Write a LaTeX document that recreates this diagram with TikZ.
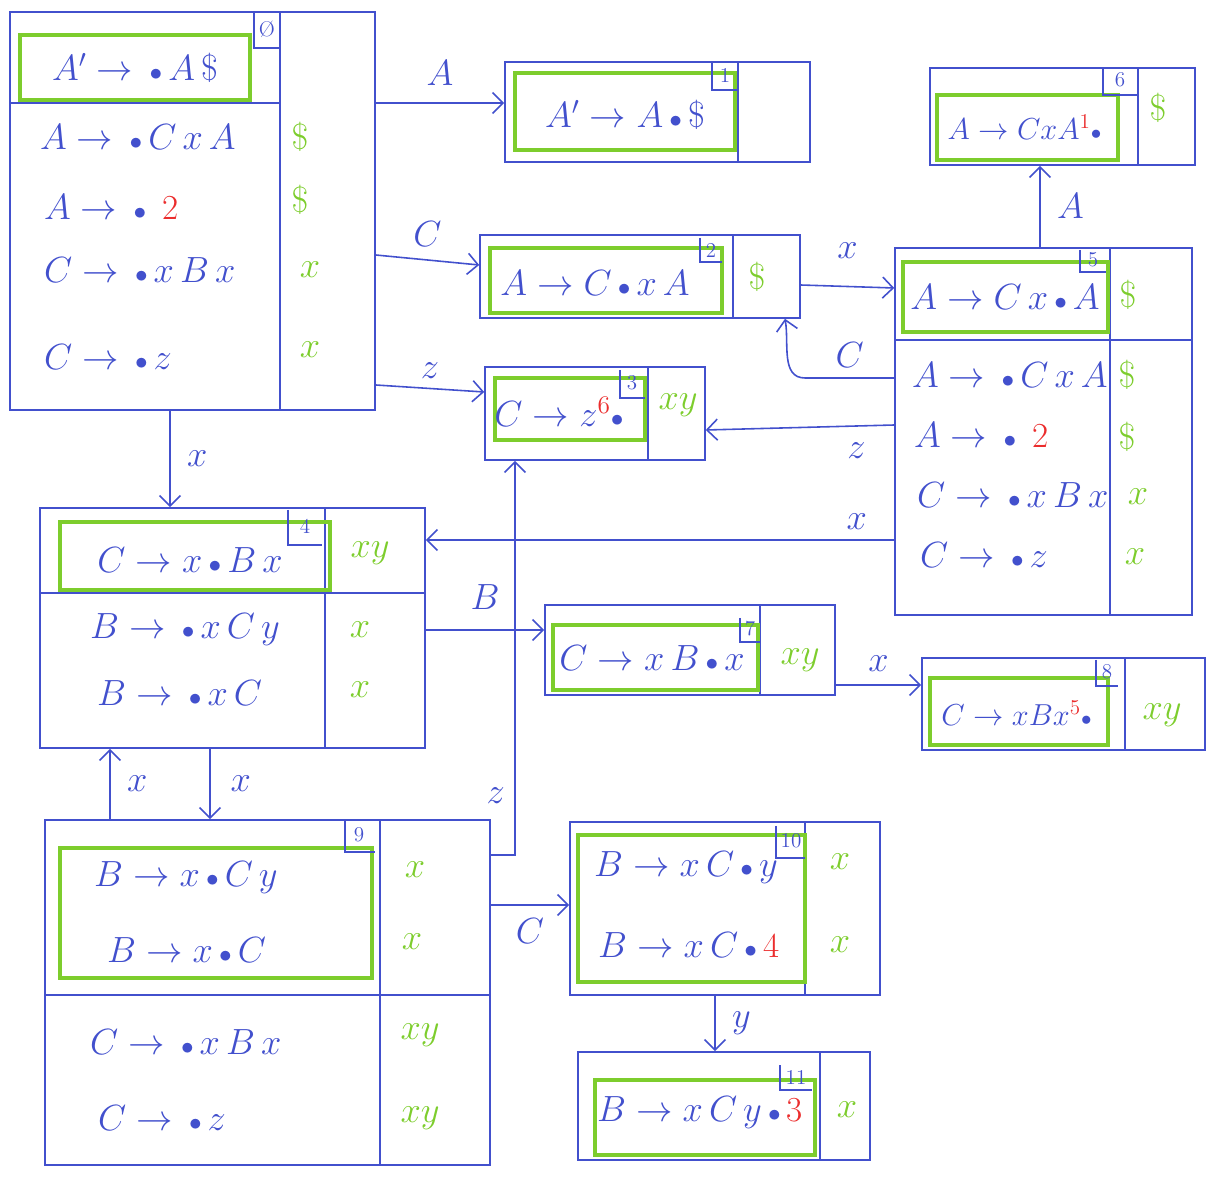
\documentclass[tikz,border=0pt]{standalone}
\usetikzlibrary{fit,arrows.meta}
\definecolor{ink}{RGB}{66,80,205}
\definecolor{hl}{RGB}{125,205,45}
\definecolor{rd}{RGB}{235,45,45}
\newcommand{\dt}{\,{\scriptstyle\bullet}\,}
\newcommand{\rednum}[1]{\textcolor{rd}{#1}}
\begin{document}
\begin{tikzpicture}[x=0.02cm,y=-0.02cm,
  state/.style={draw=ink,line width=0.9pt,inner sep=0pt},
  kern/.style={draw=hl,line width=1.8pt,inner sep=0pt},
  sep/.style={ink,line width=0.9pt},
  item/.style={text=ink,font=\fontsize{20}{24}\selectfont,inner sep=1pt},
  small item/.style={item,font=\fontsize{18.5}{22}\selectfont},
  look/.style={text=hl,font=\fontsize{20}{24}\selectfont},
  num/.style={text=ink,font=\large,inner sep=0pt},
  lbl/.style={text=ink,font=\fontsize{20}{24}\selectfont},
  edge/.style={ink,line width=0.9pt,-{Straight Barb[length=6pt,width=12pt]}}]
\useasboundingbox (0,0) rectangle (1208,1192);

% state 0
\node[state,fit={(10,12) (375,410)}] (s0) {};
\draw[sep] (280,12) -- (280,410);
\draw[sep] (10,103) -- (280,103);
\node[kern,fit={(20,35) (250,100)}] (k0) {};
\draw[sep] (254,12) |- (280,48);
\node[num] (n0) at (267,29) {\O};
\node[item] (i0) at (135,68) {$A' \to \dt A\,\$$};
\node[item,anchor=west] (i0a) at (38,137) {$A \to \dt C\,x\,A$};
\node[look] (l0a) at (300,137) {$\$$};
\node[item,anchor=west] (i0b) at (42,207) {$A \to \dt$ \rednum{2}};
\node[look] (l0b) at (300,200) {$\$$};
\node[item,anchor=west] (i0c) at (42,270) {$C \to \dt x\,B\,x$};
\node[look] (l0c) at (310,270) {$x$};
\node[item,anchor=west] (i0d) at (42,357) {$C \to \dt z$};
\node[look] (l0d) at (310,350) {$x$};

% state 1
\node[state,fit={(505,62) (810,162)}] (s1) {};
\draw[sep] (738,62) -- (738,162);
\node[kern,fit={(515,73) (735,150)}] (k1) {};
\draw[sep] (712,62) |- (738,90);
\node[num] (n1) at (725,75) {1};
\node[item] (i1) at (625,115) {$A' \to A \dt \$$};

% state 2
\node[state,fit={(480,235) (800,318)}] (s2) {};
\draw[sep] (733,235) -- (733,318);
\node[kern,fit={(490,248) (722,313)}] (k2) {};
\draw[sep] (700,238) |- (722,262);
\node[num] (n2) at (711,250) {2};
\node[item] (i2) at (595,283) {$A \to C \dt x\,A$};
\node[look] (l2) at (757,277) {$\$$};

% state 3
\node[state,fit={(485,367) (705,460)}] (s3) {};
\draw[sep] (648,367) -- (648,460);
\node[kern,fit={(495,378) (645,440)}] (k3) {};
\draw[sep] (620,370) |- (645,398);
\node[num] (n3) at (632,383) {3};
\node[item] (i3) at (562,412) {$C \to z^{\textcolor{rd}{6}}\!\dt$};
\node[look] (l3) at (678,405) {$xy$};

% state 4
\node[state,fit={(40,508) (425,748)}] (s4) {};
\draw[sep] (325,508) -- (325,748);
\draw[sep] (40,593) -- (425,593);
\node[kern,fit={(60,522) (330,590)}] (k4) {};
\draw[sep] (288,510) |- (322,545);
\node[num] (n4) at (305,526) {4};
\node[item] (i4) at (190,560) {$C \to x \dt B\,x$};
\node[look] (l4) at (370,553) {$xy$};
\node[item,anchor=west] (i4a) at (88,630) {$B \to \dt x\,C\,y$};
\node[look] (l4a) at (360,630) {$x$};
\node[item,anchor=west] (i4b) at (95,693) {$B \to \dt x\,C$};
\node[look] (l4b) at (360,690) {$x$};

% state 5
\node[state,fit={(895,248) (1192,615)}] (s5) {};
\draw[sep] (1110,248) -- (1110,615);
\draw[sep] (895,340) -- (1192,340);
\node[kern,fit={(903,262) (1108,332)}] (k5) {};
\draw[sep] (1080,250) |- (1106,272);
\node[num] (n5) at (1093,260) {5};
\node[item] (i5) at (1005,297) {$A \to C\,x \dt A$};
\node[look] (l5) at (1128,295) {$\$$};
\node[item,anchor=west] (i5a) at (910,375) {$A \to \dt C\,x\,A$};
\node[look] (l5a) at (1127,375) {$\$$};
\node[item,anchor=west] (i5b) at (912,435) {$A \to \dt$ \rednum{2}};
\node[look] (l5b) at (1127,437) {$\$$};
\node[item,anchor=west] (i5c) at (915,495) {$C \to \dt x\,B\,x$};
\node[look] (l5c) at (1138,497) {$x$};
\node[item,anchor=west] (i5d) at (918,555) {$C \to \dt z$};
\node[look] (l5d) at (1135,557) {$x$};

% state 6
\node[state,fit={(930,68) (1195,165)}] (s6) {};
\draw[sep] (1138,68) -- (1138,165);
\node[kern,fit={(937,95) (1118,160)}] (k6) {};
\draw[sep] (1103,68) |- (1138,95);
\node[num] (n6) at (1120,80) {6};
\node[small item] (i6) at (1027,127) {$A \to C x A^{\textcolor{rd}{1}}\!\dt$};
\node[look] (l6) at (1158,108) {$\$$};

% state 7
\node[state,fit={(545,605) (835,695)}] (s7) {};
\draw[sep] (760,605) -- (760,695);
\node[kern,fit={(553,625) (758,690)}] (k7) {};
\draw[sep] (740,618) |- (760,642);
\node[num] (n7) at (750,629) {7};
\node[item] (i7) at (652,658) {$C \to x\,B \dt x$};
\node[look] (l7) at (800,660) {$xy$};

% state 8
\node[state,fit={(922,658) (1205,750)}] (s8) {};
\draw[sep] (1125,658) -- (1125,750);
\node[kern,fit={(930,678) (1108,745)}] (k8) {};
\draw[sep] (1096,660) |- (1118,686);
\node[num] (n8) at (1107,672) {8};
\node[small item] (i8) at (1019,713) {$C \to x B x^{\textcolor{rd}{5}}\!\dt$};
\node[look] (l8) at (1162,715) {$xy$};

% state 9
\node[state,fit={(45,820) (490,1165)}] (s9) {};
\draw[sep] (380,820) -- (380,1165);
\draw[sep] (45,995) -- (490,995);
\node[kern,fit={(60,848) (372,978)}] (k9) {};
\draw[sep] (345,820) |- (375,852);
\node[num] (n9) at (359,835) {9};
\node[item,anchor=west] (i9a) at (92,878) {$B \to x \dt C\,y$};
\node[look] (l9a) at (415,870) {$x$};
\node[item,anchor=west] (i9b) at (105,950) {$B \to x \dt C$};
\node[look] (l9b) at (412,942) {$x$};
\node[item,anchor=west] (i9c) at (88,1042) {$C \to \dt x\,B\,x$};
\node[look] (l9c) at (420,1035) {$xy$};
\node[item,anchor=west] (i9d) at (96,1118) {$C \to \dt z$};
\node[look] (l9d) at (420,1118) {$xy$};

% state 10
\node[state,fit={(570,822) (880,995)}] (s10) {};
\draw[sep] (805,822) -- (805,995);
\node[kern,fit={(578,835) (805,982)}] (k10) {};
\draw[sep] (776,826) |- (805,858);
\node[num] (n10) at (791,841) {10};
\node[item,anchor=west] (i10a) at (592,868) {$B \to x\,C \dt y$};
\node[look] (l10a) at (840,862) {$x$};
\node[item,anchor=west] (i10b) at (596,945) {$B \to x\,C \dt$\rednum{4}};
\node[look] (l10b) at (840,945) {$x$};

% state 11
\node[state,fit={(578,1052) (870,1160)}] (s11) {};
\draw[sep] (820,1052) -- (820,1160);
\node[kern,fit={(595,1080) (815,1155)}] (k11) {};
\draw[sep] (780,1065) |- (812,1090);
\node[num] (n11) at (796,1077) {11};
\node[item] (i11) at (700,1113) {$B \to x\,C\,y \dt$\rednum{3}};
\node[look] (l11) at (847,1110) {$x$};

% transitions
\draw[edge] (s0.east |- 0,103) -- node[lbl,above=6pt] {$A$} (s1.west |- 0,103);
\draw[edge] (s0.east |- 0,255) -- node[lbl,above=4pt] {$C$} (s2.west |- 0,265);
\draw[edge] (s0.east |- 0,385) -- node[lbl,above=2pt] {$z$} (s3.west |- 0,392);
\draw[edge] (s0.south -| 170,0) -- node[lbl,right=6pt] {$x$} (s4.north -| 170,0);
\draw[edge] (s2.east |- 0,285) -- node[lbl,above=12pt] {$x$} (s5.west |- 0,288);
\draw[edge] (s5.west |- 0,378) -- node[lbl,above=2pt] {$C$} (805,378) to[out=180,in=-80] (s2.south -| 785,0);
\draw[edge] (s5.west |- 0,425) -- node[lbl,below=6pt,pos=0.2] {$z$} (s3.east |- 0,430);
\draw[edge] (s5.west |- 0,540) -- node[lbl,above=2pt,pos=0.08] {$x$} (s4.east |- 0,540);
\draw[edge] (s5.north -| 1040,0) -- node[lbl,right=6pt] {$A$} (s6.south -| 1040,0);
\draw[edge] (s4.east |- 0,630) -- node[lbl,above=8pt] {$B$} (s7.west |- 0,630);
\draw[edge] (s7.east |- 0,685) -- node[lbl,above=4pt] {$x$} (s8.west |- 0,685);
\draw[edge] (s4.south -| 210,0) -- node[lbl,right=8pt] {$x$} (s9.north -| 210,0);
\draw[edge] (s9.north -| 110,0) -- node[lbl,right=6pt] {$x$} (s4.south -| 110,0);
\draw[edge] (s9.east |- 0,855) -- (515,855) -- node[lbl,left=2pt,pos=0.15] {$z$} (s3.south -| 515,0);
\draw[edge] (s9.east |- 0,905) -- node[lbl,below=4pt] {$C$} (s10.west |- 0,905);
\draw[edge] (s10.south -| 715,0) -- node[lbl,right=6pt] {$y$} (s11.north -| 715,0);
\end{tikzpicture}
\end{document}
